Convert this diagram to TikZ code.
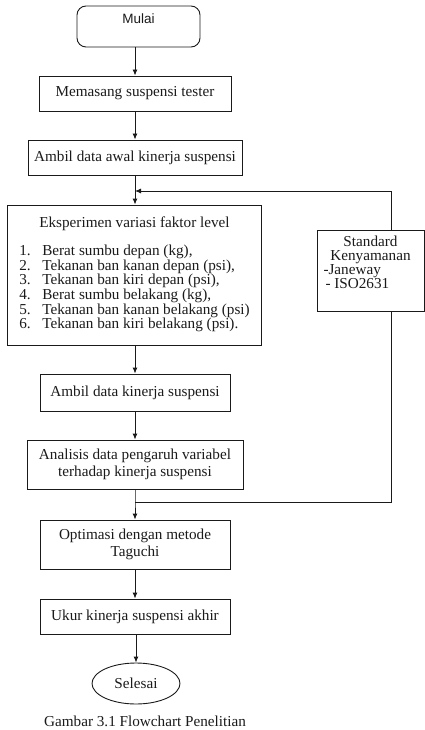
\documentclass[tikz,border=0pt]{standalone}
\usepackage{fontspec}
\setmainfont{Liberation Serif}
\newfontfamily\sansf{Liberation Sans}
\usetikzlibrary{arrows.meta,shapes.geometric}
\definecolor{ink}{HTML}{1A1A1A}
\begin{document}
\begin{tikzpicture}[x=1pt,y=-1pt,
  every node/.style={font=\fontsize{15.2}{17}\selectfont, text=ink},
  box/.style 2 args={draw=ink, line width=0.9pt, rectangle, minimum width=#1, minimum height=#2, inner sep=0pt, align=center},
  ln/.style={draw=ink, line width=0.9pt},
  arr/.style={ln, -{Latex[length=6pt,width=5pt]}}]
\useasboundingbox (0,0) rectangle (425,730);

\node[box={123}{41}, rounded corners=9pt, font=\sansf\fontsize{13.5}{13}\selectfont] (mulai) at (138.5,26.5) {Mulai\\[2pt]\mbox{}};
\node[box={192}{35}] (memasang) at (135,93.5) {Memasang suspensi tester};
\node[box={214}{35}] (awal) at (135,157.5) {Ambil data awal kinerja suspensi};
\node[box={254}{140}] (eksp) at (134.5,275) {Eksperimen variasi faktor level\\[11pt]
{\fontsize{15.2}{13.8}\selectfont\begin{tabular}[t]{@{}l@{}}
\makebox[23pt][l]{1.}Berat sumbu depan (kg),\\
\makebox[23pt][l]{2.}Tekanan ban kanan depan (psi),\\
\makebox[23pt][l]{3.}Tekanan ban kiri depan (psi),\\
\makebox[23pt][l]{4.}Berat sumbu belakang (kg),\\
\makebox[23pt][l]{5.}Tekanan ban kanan belakang (psi)\\
\makebox[23pt][l]{6.}Tekanan ban kiri belakang (psi).
\end{tabular}}};
\node[box={107}{81}, align=left, font=\fontsize{15.2}{13.8}\selectfont] (std) at (370.5,270.5) {\makebox[94pt]{Standard}\\\makebox[94pt]{Kenyamanan}\\-Janeway\\\hspace*{2pt}-\ ISO2631\\[3pt]\mbox{}};
\node[box={190}{37}] (kinerja) at (135,392.5) {Ambil data kinerja suspensi};
\node[box={216}{49}] (analisis) at (135,464.5) {Analisis data pengaruh variabel\\terhadap kinerja suspensi};
\node[box={190}{49}] (optim) at (135,544.5) {Optimasi dengan metode\\Taguchi};
\node[box={190}{35}] (ukur) at (135,616.5) {Ukur kinerja suspensi akhir};
\node[draw=ink, line width=0.9pt, ellipse, minimum width=88, minimum height=41, inner sep=0pt] (selesai) at (136,683.5) {Selesai};
\node (caption) at (145,721) {Gambar 3.1 Flowchart Penelitian};

\coordinate (fr) at (391,191);
\coordinate (fl) at (135,191);
\coordinate (jr) at (391,502);
\coordinate (j) at (135,502);

\draw[arr] (mulai.south -| memasang.north) -- (memasang.north);
\draw[arr] (memasang.south) -- (awal.north);
\draw[arr] (awal.south) -- (awal.south |- eksp.north);
\draw[arr] (eksp.south -| kinerja.north) -- (kinerja.north);
\draw[arr] (kinerja.south) -- (analisis.north);
\draw[arr] (analisis.south) -- (j) -- (optim.north);
\draw[arr] (optim.south) -- (ukur.north);
\draw[arr] (ukur.south) -- (ukur.south -| selesai.north) -- (selesai.north);
\draw[arr] (fr |- std.north) -- (fr) -- (fl);
\draw[ln] (fr |- std.south) -- (jr) -- (j);
\end{tikzpicture}
\end{document}
